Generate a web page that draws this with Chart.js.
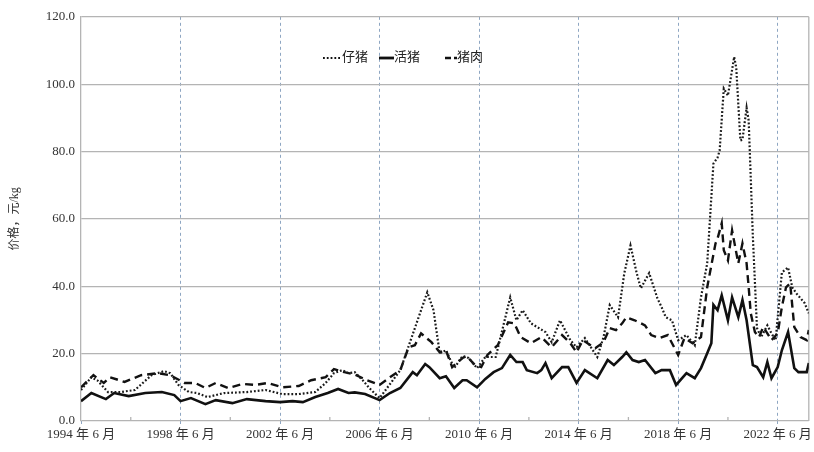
<!DOCTYPE html>
<html>
<head>
<meta charset="utf-8">
<script src="https://cdn.jsdelivr.net/npm/chart.js@4.4.1/dist/chart.umd.min.js"></script>
<style>
  html, body { margin: 0; padding: 0; background: #fff; }
  #page { width: 814px; height: 452px; padding-top: 3px; box-sizing: border-box; }
  #wrap { position: relative; width: 814px; height: 449px; }
</style>
</head>
<body>
<div id="page"><div id="wrap"><canvas id="chart"></canvas></div></div>
<script>
// x axis: month index counted from 1994-06
const tickLabels = ['1994 年 6 月', '1998 年 6 月', '2002 年 6 月', '2006 年 6 月',
                    '2010 年 6 月', '2014 年 6 月', '2018 年 6 月', '2022 年 6 月'];
const seriesNames = ['仔猪', '活猪', '猪肉'];

// 仔猪
const pigletDates = ['1994-06','1994-11','1995-02','1995-07','1996-01','1996-08','1997-04','1997-10','1998-01','1998-05',
  '1998-10','1999-02','1999-07','2000-03','2001-02','2001-11','2002-07','2003-03','2003-11','2004-04',
  '2004-08','2004-12','2005-03','2005-06','2005-10','2006-01','2006-06','2007-04','2007-09','2008-05',
  '2008-08','2008-11','2009-02','2009-06','2009-10','2010-01','2010-05','2010-09','2011-02','2011-09',
  '2011-12','2012-03','2012-07','2013-02','2013-05','2013-09','2014-02','2014-05','2014-09','2015-03',
  '2015-06','2015-09','2016-01','2016-04','2016-07','2016-10','2016-12','2017-04','2017-08','2017-10',
  '2017-12','2018-03','2018-06','2018-10','2019-02','2019-05','2019-08','2019-11','2020-01','2020-02',
  '2020-04','2020-06','2020-09','2020-10','2020-12','2021-01','2021-03','2021-04','2021-06','2021-08',
  '2021-10','2022-01','2022-03','2022-05','2022-08','2022-11','2023-01','2023-03','2023-07','2023-09'];
const pigletPrices = [9.2, 13.0, 12.0, 8.6, 8.6, 9.2, 13.6, 14.8, 14.2, 10.7,
  8.6, 8.3, 7.1, 8.3, 8.6, 9.2, 8.0, 8.0, 8.6, 11.3,
  14.2, 15.1, 14.2, 14.5, 12.0, 9.8, 6.8, 15.1, 24.0, 38.2,
  32.9, 20.1, 21.0, 15.7, 19.3, 18.7, 15.7, 19.0, 19.0, 36.7,
  29.9, 32.9, 29.0, 26.4, 23.4, 29.9, 24.0, 21.9, 24.6, 19.0,
  24.9, 34.4, 30.8, 43.8, 52.1, 43.9, 39.4, 43.9, 36.4, 33.8,
  30.8, 29.9, 24.0, 25.5, 22.5, 36.7, 46.8, 76.4, 78.2, 80.3,
  98.7, 96.6, 108.1, 104.9, 83.3, 83.5, 93.0, 89.2, 55.0, 27.6,
  24.9, 28.4, 26.0, 24.0, 44.1, 45.6, 39.7, 37.9, 35.0, 32.0];

// 活猪
const hogDates = ['1994-06','1994-11','1995-06','1995-10','1996-05','1997-01','1997-09','1998-03','1998-06','1998-11',
  '1999-06','1999-11','2000-07','2001-02','2001-11','2002-06','2002-12','2003-05','2003-11','2004-05',
  '2004-10','2005-03','2005-06','2005-11','2006-06','2006-11','2007-04','2007-10','2007-12','2008-04',
  '2008-06','2008-11','2009-02','2009-06','2009-10','2009-12','2010-05','2010-09','2011-01','2011-05',
  '2011-09','2011-12','2012-03','2012-05','2012-10','2012-12','2013-02','2013-05','2013-10','2014-01',
  '2014-05','2014-09','2015-03','2015-08','2015-11','2016-03','2016-05','2016-08','2016-11','2017-02',
  '2017-07','2017-10','2018-02','2018-05','2018-10','2019-02','2019-05','2019-08','2019-10','2019-11',
  '2020-01','2020-03','2020-06','2020-08','2020-11','2021-01','2021-03','2021-06','2021-08','2021-11',
  '2022-01','2022-03','2022-06','2022-08','2022-11','2023-02','2023-04','2023-08','2023-09'];
const hogPrices = [5.9, 8.3, 6.5, 8.3, 7.4, 8.3, 8.6, 7.7, 5.9, 6.8,
  5.0, 6.2, 5.3, 6.5, 5.9, 5.6, 5.9, 5.6, 7.1, 8.3,
  9.5, 8.3, 8.5, 8.0, 6.2, 8.3, 9.8, 14.5, 13.6, 16.9,
  16.0, 12.7, 13.3, 9.8, 12.1, 12.1, 10.0, 12.5, 14.5, 15.7,
  19.6, 17.5, 17.5, 15.1, 14.2, 15.1, 17.2, 12.7, 16.0, 16.0,
  11.3, 15.1, 12.7, 18.1, 16.6, 19.0, 20.4, 18.1, 17.5, 18.1,
  14.2, 15.1, 15.1, 10.7, 14.2, 12.7, 15.7, 20.1, 23.1, 34.5,
  32.9, 37.3, 29.9, 36.7, 30.8, 35.9, 29.9, 16.6, 16.0, 13.0,
  17.5, 12.7, 16.0, 21.0, 26.4, 15.7, 14.5, 14.5, 17.2];

// 猪肉
const porkDates = ['1994-06','1994-12','1995-05','1995-08','1996-03','1996-11','1997-07','1998-01','1998-08','1999-01',
  '1999-06','1999-11','2000-05','2000-12','2001-06','2001-12','2002-07','2003-03','2003-09','2004-04',
  '2004-08','2005-01','2005-06','2005-12','2006-06','2006-11','2007-04','2007-08','2007-11','2008-02',
  '2008-07','2008-11','2009-02','2009-05','2009-10','2009-12','2010-04','2010-07','2010-10','2011-03',
  '2011-08','2011-11','2012-02','2012-07','2012-12','2013-05','2013-10','2014-02','2014-05','2014-08',
  '2015-02','2015-06','2015-09','2015-12','2016-03','2016-05','2016-09','2017-02','2017-05','2017-09',
  '2018-01','2018-06','2018-09','2019-01','2019-05','2019-08','2019-12','2020-01','2020-03','2020-04',
  '2020-06','2020-08','2020-11','2021-01','2021-03','2021-04','2021-05','2021-07','2021-09','2021-11',
  '2022-01','2022-03','2022-06','2022-08','2022-10','2022-12','2023-02','2023-05','2023-08','2023-09'];
const porkPrices = [10.0, 13.6, 11.3, 13.0, 11.6, 13.6, 14.2, 13.6, 11.3, 11.3,
  9.8, 11.3, 9.8, 11.0, 10.7, 11.3, 10.0, 10.4, 12.1, 13.0,
  15.4, 14.5, 13.8, 12.1, 10.7, 13.0, 15.1, 21.9, 22.5, 26.0,
  23.4, 20.4, 21.0, 16.0, 18.7, 19.3, 16.6, 16.0, 19.6, 22.5,
  29.3, 29.0, 24.9, 23.1, 24.9, 21.9, 25.5, 23.1, 20.4, 24.0,
  21.6, 23.4, 27.6, 27.0, 29.0, 30.8, 29.9, 28.4, 25.5, 24.6,
  25.5, 19.6, 24.6, 23.1, 24.9, 39.7, 52.7, 54.2, 58.7, 50.7,
  47.7, 56.6, 46.8, 52.7, 46.8, 39.7, 32.0, 26.4, 24.9, 27.9,
  26.0, 24.0, 26.0, 33.8, 39.7, 40.9, 27.9, 24.9, 24.0, 27.0];

const FONT = "'Liberation Serif', 'Noto Sans CJK SC', serif";
const GRID = '#b4b4b4';
const VGRID = '#8ea6c2';

function monthIndex(s) {
    const [y, m] = s.split('-').map(Number);
    return (y - 1994) * 12 + (m - 6);
}

function toPoints(dates, values) {
    return dates.map((d, i) => ({ x: monthIndex(d), y: values[i] }));
}

const isMajor = v => v % 48 === 0;

// right border + small inside ticks between the labelled years
const framePlugin = {
    id: 'frame',
    beforeDatasetsDraw(chart) {
        const { ctx, chartArea: a, scales: { x } } = chart;
        ctx.save();
        ctx.strokeStyle = GRID;
        ctx.lineWidth = 1.3;
        ctx.beginPath();
        ctx.moveTo(a.right, a.top);
        ctx.lineTo(a.right, a.bottom);
        x.ticks.forEach(t => {
            if (isMajor(t.value)) return;
            const px = x.getPixelForValue(t.value);
            ctx.moveTo(px, a.bottom);
            ctx.lineTo(px, a.bottom - 4);
        });
        ctx.stroke();
        ctx.restore();
    }
};

// legend inside the plot, like the original (canvas is shifted down 3px)
const legendPlugin = {
    id: 'innerLegend',
    afterDraw(chart) {
        const { ctx } = chart;
        const y = 55;
        ctx.save();
        ctx.strokeStyle = '#111';
        ctx.fillStyle = '#222';
        ctx.font = '13px ' + FONT;
        ctx.textBaseline = 'middle';

        ctx.lineWidth = 2.2;
        ctx.setLineDash([1.8, 2]);
        ctx.beginPath(); ctx.moveTo(323, y); ctx.lineTo(342, y); ctx.stroke();
        ctx.fillText(seriesNames[0], 342, y);

        ctx.lineWidth = 2.8;
        ctx.setLineDash([]);
        ctx.beginPath(); ctx.moveTo(379, y); ctx.lineTo(394, y); ctx.stroke();
        ctx.fillText(seriesNames[1], 394, y);

        ctx.lineWidth = 2.6;
        ctx.setLineDash([6, 3]);
        ctx.beginPath(); ctx.moveTo(445, y); ctx.lineTo(457, y); ctx.stroke();
        ctx.fillText(seriesNames[2], 457, y);
        ctx.restore();
    }
};

const ctx = document.getElementById('chart').getContext('2d');
new Chart(ctx, {
    type: 'line',
    data: {
        datasets: [
            {
                label: seriesNames[0],
                data: toPoints(pigletDates, pigletPrices),
                borderColor: '#1a1a1a',
                borderWidth: 2.2,
                borderDash: [1.8, 2],
                pointRadius: 0,
                tension: 0
            },
            {
                label: seriesNames[1],
                data: toPoints(hogDates, hogPrices),
                borderColor: '#111',
                borderWidth: 2.6,
                pointRadius: 0,
                tension: 0
            },
            {
                label: seriesNames[2],
                data: toPoints(porkDates, porkPrices),
                borderColor: '#111',
                borderWidth: 2.4,
                borderDash: [8, 5],
                pointRadius: 0,
                tension: 0
            }
        ]
    },
    options: {
        responsive: true,
        maintainAspectRatio: false,
        animation: false,
        layout: { padding: { top: 12, right: 4, left: 0, bottom: 0 } },
        plugins: {
            legend: { display: false },
            tooltip: { enabled: false }
        },
        scales: {
            x: {
                type: 'linear',
                min: 0,
                max: 351,
                afterBuildTicks: scale => {
                    const t = [];
                    for (let v = 0; v <= 336; v += 24) t.push({ value: v });
                    scale.ticks = t;
                },
                afterFit: scale => { scale.height = 31; },
                ticks: {
                    autoSkip: false,
                    maxRotation: 0,
                    padding: 2,
                    color: '#333',
                    font: { family: FONT, size: 13 },
                    callback: v => isMajor(v) ? tickLabels[v / 48] : ''
                },
                grid: {
                    color: c => (c.tick && isMajor(c.tick.value) && c.tick.value > 0) ? VGRID : 'rgba(0,0,0,0)',
                    lineWidth: 1,
                    drawTicks: true,
                    tickLength: 4,
                    tickColor: c => (c.tick && isMajor(c.tick.value)) ? VGRID : 'rgba(0,0,0,0)',
                    tickBorderDash: [3, 3]
                },
                border: { display: false, dash: [3, 3] }
            },
            y: {
                min: 0,
                max: 120,
                afterFit: scale => { scale.width = 81; },
                ticks: {
                    stepSize: 20,
                    padding: 6,
                    color: '#333',
                    font: { family: FONT, size: 13 },
                    callback: v => v.toFixed(1)
                },
                grid: { color: GRID, lineWidth: 1.3, drawTicks: false },
                border: { color: GRID, width: 1.3 },
                title: {
                    display: true,
                    text: '价格，元/kg',
                    color: '#333',
                    font: { family: FONT, size: 12 },
                    padding: { top: 8, bottom: 0 }
                }
            }
        }
    },
    plugins: [framePlugin, legendPlugin]
});
</script>
</body>
</html>
